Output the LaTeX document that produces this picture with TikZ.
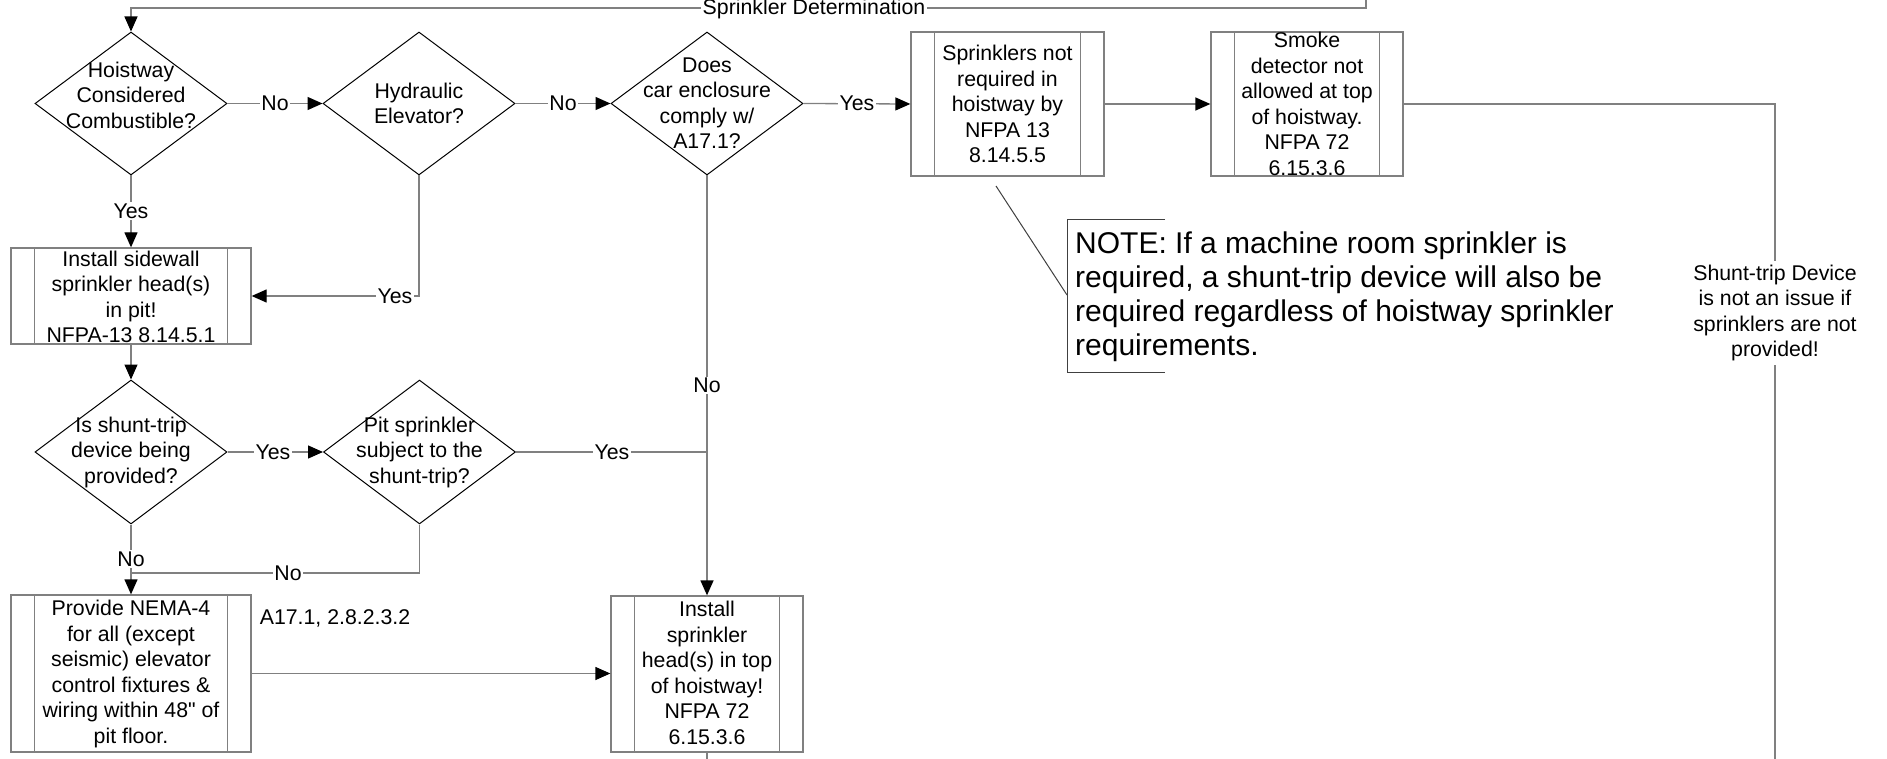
\documentclass[tikz,border=0pt]{standalone}
\usepackage{fontspec}
\setmainfont{Liberation Sans}[Ligatures=TeXOff]
\usetikzlibrary{arrows.meta,shapes.geometric}
\definecolor{lg}{RGB}{128,128,128}
\tikzset{
  every node/.style={font=\fontsize{21.3}{25.5}\selectfont},
  dec/.style={diamond, draw=black, line width=1pt, minimum width=192pt, minimum height=143pt, inner sep=0pt},
  proc/.style={rectangle, draw=lg, line width=1.3pt, inner sep=0pt},
  conn/.style={draw=lg, line width=1.3pt},
  arr/.style={conn, -{Triangle[length=15pt,width=13pt,color=black]}},
  lab/.style={fill=white, inner sep=1.5pt},
  txt/.style={align=center, inner sep=0pt},
  notetxt/.style={align=left, inner sep=0pt, font=\fontsize{30}{34}\selectfont},
  annot/.style={draw=black!75, line width=1pt},
}
\newcommand\pbars[1]{\draw[lg,line width=1.3pt] ([xshift=24pt]#1.north west) -- ([xshift=24pt]#1.south west) ([xshift=-24pt]#1.north east) -- ([xshift=-24pt]#1.south east);}
\begin{document}
\begin{tikzpicture}[x=1pt,y=-1pt]
\fill[white] (0,0) rectangle (1887,759);
\useasboundingbox (0,0) rectangle (1887,759);
\clip (0,0) rectangle (1887,759);

% decisions
\node[dec] (d1) at (131,103.5) {};
\node[txt] (d1t) at (131,95) {Hoistway\\Considered\\Combustible?};
\node[dec] (d2) at (419,103.5) {};
\node[txt] (d2t) at (419,103.5) {Hydraulic\\Elevator?};
\node[dec] (d3) at (707,103.5) {};
\node[txt] (d3t) at (707,103) {Does\\car enclosure\\comply w/\\A17.1?};
\node[dec, minimum height=144pt] (d4) at (131,452) {};
\node[txt] (d4t) at (131,452) {Is shunt-trip\\device being\\provided?};
\node[dec, minimum height=144pt] (d5) at (419.5,452) {};
\node[txt] (d5t) at (419.5,452) {Pit sprinkler\\subject to the\\shunt-trip?};

% processes
\node[proc, minimum width=193pt, minimum height=144pt] (b1) at (1007.5,104) {};
\pbars{b1}
\node[txt] (b1t) at (1007.5,104) {Sprinklers not\\required in\\hoistway by\\NFPA 13\\8.14.5.5};
\node[proc, minimum width=192pt, minimum height=144pt] (b2) at (1307,104) {};
\pbars{b2}
\node[txt] (b2t) at (1307,104) {Smoke\\detector not\\allowed at top\\of hoistway.\\NFPA 72\\6.15.3.6};
\node[proc, minimum width=240pt, minimum height=96pt] (b3) at (131,296) {};
\pbars{b3}
\node[txt] (b3t) at (131,297) {Install sidewall\\sprinkler head(s)\\in pit!\\NFPA-13 8.14.5.1};
\node[proc, minimum width=240pt, minimum height=157pt] (b4) at (131,673.5) {};
\pbars{b4}
\node[txt] (b4t) at (131,674) {Provide NEMA-4\\for all (except\\seismic) elevator\\control fixtures \&\\wiring within 48" of\\pit floor.};
\node[proc, minimum width=192pt, minimum height=156pt] (b5) at (707,674) {};
\pbars{b5}
\node[txt] (b5t) at (707,673) {Install\\sprinkler\\head(s) in top\\of hoistway!\\NFPA 72\\6.15.3.6};

% free ends
\coordinate (topin) at (1366,-20);
\coordinate (rbot) at (1775,800);
\coordinate (b5out) at (707,800);
\coordinate (j2) at (131,573);

% connectors
\draw[arr] (topin) -- (1366,8) -| (d1.north);
\node[lab] (lsd) at (814,9) {Sprinkler Determination};

\draw[arr] (d1.east) -- (d2.west);
\node[lab] (l1) at (275,103.5) {No};
\draw[arr] (d2.east) -- (d3.west);
\node[lab] (l2) at (563,103.5) {No};
\draw[arr] (d3.east) -- (b1.west);
\node[lab] (l3) at (857,103.5) {Yes};
\draw[arr] (b1.east) -- (b2.west);
\draw[conn] (b2.east) -| (rbot);
\node[lab, inner sep=4pt, align=center] (lst) at (1775,313) {Shunt-trip Device\\is not an issue if\\sprinklers are not\\provided!};

\draw[arr] (d1.south) -- (b3.north);
\node[lab] (l4) at (131,211) {Yes};
\draw[arr] (d2.south) |- (b3.east);
\node[lab] (l5) at (395,296) {Yes};

\draw[arr] (b3.south) -- (d4.north);
\draw[arr] (d4.east) -- (d5.west);
\node[lab] (l6) at (273,452) {Yes};
\draw[conn] (d5.east) -- (d5.east -| d3.south);
\node[lab] (l7) at (612,452) {Yes};

\draw[arr] (d3.south) -- (b5.north);
\node[lab] (l8) at (707,385.5) {No};

\draw[arr] (d4.south) -- (b4.north);
\node[lab] (l9) at (131,559) {No};
\draw[conn] (d5.south) |- (j2);
\node[lab] (l10) at (288,573) {No};

\draw[arr] (b4.east) -- (b4.east -| b5.west);
\node (ref) at (335,618) {A17.1, 2.8.2.3.2};
\draw[conn] (b5.south) -- (b5out);

% note annotation
\coordinate (n1) at (996,186);
\coordinate (n2) at (1067,295);
\draw[annot] (n1) -- (n2);
\draw[annot] (1165,220) -- (1067,220) -- (1067,372) -- (1165,372);
\node[notetxt, anchor=north west] (note) at (1075,231.5) {NOTE: If a machine room sprinkler is\\required, a shunt-trip device will also be\\required regardless of hoistway sprinkler\\requirements.};
\end{tikzpicture}
\end{document}
